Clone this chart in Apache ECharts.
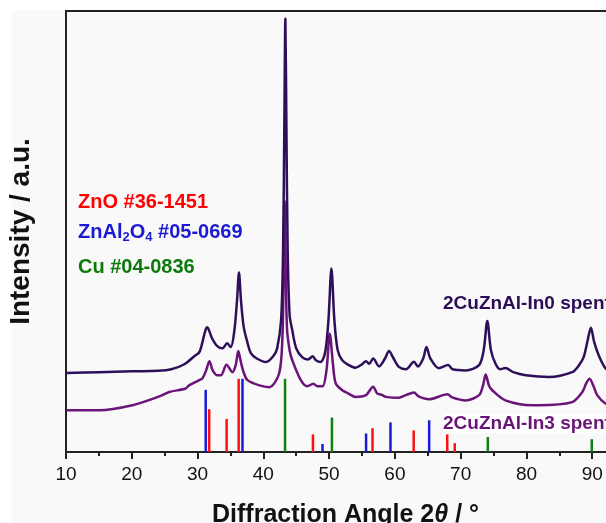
<!DOCTYPE html>
<html>
<head>
<meta charset="utf-8">
<script src="https://cdn.jsdelivr.net/npm/echarts@6/dist/echarts.min.js"></script>
<style>
html, body { margin: 0; padding: 0; background: #fff; }
#chart { width: 606px; height: 523px; }
</style>
</head>
<body>
<div id="chart"></div>
<script>
// XRD patterns (2theta, intensity in a.u.)
var theta0 = [10, 15, 20, 24, 26, 28, 29.5, 30.3, 31.0, 31.3, 31.5, 31.8, 32.2, 33.0, 33.8, 34.5, 35.05, 35.6, 36.0, 36.3, 36.6, 37.0, 37.5, 38.1, 39.0, 40.4, 41.5, 42.1, 42.7, 43.0, 43.2, 43.35, 43.5, 43.7, 44.0, 44.4, 45.0, 45.9, 46.8, 47.5, 48.0, 48.7, 49.4, 49.9, 50.35, 50.8, 51.3, 52.0, 53.0, 54.0, 55.0, 55.6, 56.1, 56.7, 57.6, 58.5, 59.1, 59.8, 60.6, 61.7, 62.9, 63.5, 64.3, 64.8, 65.4, 66.7, 68.1, 68.8, 70.75, 72.8, 73.5, 74.05, 74.6, 75.3, 76.0, 76.8, 78.0, 79.9, 83.4, 86.95, 88.0, 88.7, 89.3, 89.8, 90.3, 91.0, 92.0, 93.0];
var int0 = [17.9, 18.1, 18.3, 18.4, 18.75, 19.9, 21.7, 22.7, 26.5, 28.0, 28.3, 27.4, 25.8, 24.0, 23.5, 24.65, 23.8, 27.6, 34.4, 40.7, 34.4, 28.5, 25.3, 22.4, 21.2, 20.4, 21.7, 23.5, 29.9, 45.7, 75.2, 98.3, 75.2, 45.7, 31.0, 27.6, 23.5, 21.5, 21.0, 21.7, 20.8, 20.4, 22.6, 29.9, 41.6, 29.9, 23.1, 20.8, 19.7, 19.1, 19.9, 20.6, 20.0, 21.2, 19.4, 21.2, 22.9, 21.2, 19.3, 18.75, 20.45, 19.4, 21.2, 23.8, 21.2, 19.0, 19.7, 18.75, 18.5, 19.7, 23.1, 29.7, 23.1, 20.0, 18.75, 19.05, 18.1, 17.4, 17.0, 18.1, 19.7, 21.5, 25.3, 28.2, 24.9, 21.9, 19.0, 18.1];

var theta3 = [10, 15, 20.1, 24.2, 25.7, 28.2, 28.7, 30.25, 30.75, 31.3, 31.8, 32.3, 33.0, 33.55, 34.4, 35.3, 35.8, 36.2, 36.6, 37.0, 37.6, 39.4, 40.9, 42.4, 42.9, 43.1, 43.25, 43.4, 43.6, 44.0, 44.4, 45.7, 46.7, 47.6, 48.2, 49.0, 49.6, 50.1, 50.6, 51.0, 52.0, 53.0, 54.0, 55.6, 56.7, 57.3, 58.1, 58.6, 60.6, 61.65, 62.9, 63.6, 65.2, 68.0, 68.7, 70.75, 72.8, 73.4, 73.8, 74.3, 74.8, 76.8, 80.9, 81.9, 86.95, 88.5, 89.1, 89.6, 90.2, 90.75, 92.0, 93.0];
var int3 = [9.45, 9.45, 10.6, 12.6, 13.6, 14.4, 15.1, 16.3, 16.7, 18.5, 20.6, 18.5, 17.4, 17.4, 19.8, 18.1, 19.7, 22.9, 20.3, 18.1, 16.3, 15.1, 14.7, 17.8, 26.0, 42.0, 57.0, 42.0, 28.0, 23.0, 20.8, 16.3, 14.9, 15.5, 14.9, 14.9, 18.5, 26.8, 19.7, 15.6, 14.0, 13.2, 12.5, 12.9, 14.8, 13.3, 12.9, 12.5, 12.3, 12.9, 13.5, 12.6, 11.95, 13.1, 12.4, 11.7, 12.9, 15.1, 17.55, 15.1, 14.0, 11.7, 10.6, 10.6, 11.3, 13.6, 15.6, 16.6, 14.9, 12.9, 11.0, 10.6];

// reference patterns (stick positions and heights)
var znoPos = [31.77, 34.42, 36.25, 47.54, 56.60, 62.86, 67.96, 69.10];
var znoInt = [9.7, 7.5, 16.6, 4.0, 5.4, 4.9, 4.0, 2.0];
var spinelPos = [31.24, 36.83, 49.0, 55.62, 59.33, 65.21];
var spinelInt = [14.1, 16.6, 1.8, 4.2, 6.7, 7.2];
var cuPos = [43.30, 50.43, 74.13, 89.93];
var cuInt = [16.6, 7.8, 3.4, 2.9];

function pairs(xs, ys) {
    return xs.map(function (x, i) { return [x, ys[i]]; });
}

var chart = echarts.init(document.getElementById('chart'));

var axisColor = '#222';
var font = 'Liberation Sans, Arial, sans-serif';

function stickSeries(name, xs, ys, color) {
    return {
        name: name,
        type: 'bar',
        data: pairs(xs, ys),
        barWidth: 2.5,
        barGap: '-100%',
        itemStyle: { color: color },
        silent: true,
        z: 2
    };
}

var option = {
    backgroundColor: '#f9f9f9',
    animation: false,
    grid: { left: 66, top: 11, right: -52, bottom: 71, outerBoundsMode: 'none' },
    xAxis: [{
        type: 'value',
        min: 10,
        max: 100,
        interval: 10,
        axisLine: { lineStyle: { color: axisColor, width: 2 } },
        axisTick: { length: 7, lineStyle: { color: axisColor, width: 2 } },
        minorTick: { show: true, splitNumber: 2, length: 4, lineStyle: { color: axisColor, width: 2 } },
        splitLine: { show: false },
        axisLabel: { fontSize: 19, color: '#111', margin: 13, fontFamily: font }
    }, {
        type: 'value',
        position: 'top',
        min: 10,
        max: 100,
        axisLine: { show: true, lineStyle: { color: axisColor, width: 2 } },
        axisTick: { show: false },
        axisLabel: { show: false },
        splitLine: { show: false }
    }],
    yAxis: {
        type: 'value',
        min: 0,
        max: 100,
        axisLine: { show: true, lineStyle: { color: axisColor, width: 2 } },
        axisTick: { show: false },
        axisLabel: { show: false },
        splitLine: { show: false },
        name: 'Intensity / a.u.',
        nameLocation: 'middle',
        nameGap: 31,
        nameTextStyle: { fontSize: 28, fontWeight: 'bold', color: '#111', fontFamily: font }
    },
    title: {
        left: 207,
        top: 498,
        text: '{n|Diffraction Angle 2}{i|θ}{n| / °}',
        textStyle: {
            rich: {
                n: { fontSize: 25, fontWeight: 'bold', color: '#111', fontFamily: font },
                i: { fontSize: 25, fontWeight: 'bold', fontStyle: 'italic', color: '#111', fontFamily: font }
            }
        }
    },
    graphic: [
        { type: 'rect', left: 0, top: 0, shape: { width: 606, height: 10 }, style: { fill: '#fff' }, silent: true },
        { type: 'rect', left: 0, top: 0, shape: { width: 12, height: 523 }, style: { fill: '#fff' }, silent: true },
        {
            type: 'text', left: 78, top: 192,
            style: { text: 'ZnO #36-1451', fill: '#ff0000', font: 'bold 20px ' + font }
        },
        {
            type: 'text', left: 78, top: 220,
            style: {
                text: '{m|ZnAl}{s|2}{m|O}{s|4}{m| #05-0669}',
                rich: {
                    m: { fontSize: 20, fontWeight: 'bold', fill: '#1a1ad0', fontFamily: font, lineHeight: 24 },
                    s: { fontSize: 13, fontWeight: 'bold', fill: '#1a1ad0', fontFamily: font, lineHeight: 13, padding: [11, 0, 0, 0] }
                }
            }
        },
        {
            type: 'text', left: 78, top: 257,
            style: { text: 'Cu #04-0836', fill: '#0b7a0b', font: 'bold 20px ' + font }
        },
        {
            type: 'text', left: 443, top: 294,
            style: { text: '2CuZnAl-In0 spent', fill: '#2b0c55', font: 'bold 19px ' + font }
        },
        {
            type: 'text', left: 443, top: 414,
            style: { text: '2CuZnAl-In3 spent', fill: '#6a1479', font: 'bold 19px ' + font, backgroundColor: '#fff' }
        }
    ],
    series: [
        stickSeries('ZnO #36-1451', znoPos, znoInt, '#ff1010'),
        stickSeries('ZnAl2O4 #05-0669', spinelPos, spinelInt, '#1a1ad8'),
        stickSeries('Cu #04-0836', cuPos, cuInt, '#108010'),
        {
            name: '2CuZnAl-In3 spent',
            type: 'line',
            data: pairs(theta3, int3),
            showSymbol: false,
            smooth: 0.3,
            lineStyle: { color: '#6a1479', width: 2.5 },
            z: 3
        },
        {
            name: '2CuZnAl-In0 spent',
            type: 'line',
            data: pairs(theta0, int0),
            showSymbol: false,
            smooth: 0.3,
            lineStyle: { color: '#2e0f5a', width: 2.5 },
            z: 4
        }
    ]
};

chart.setOption(option);
window.addEventListener('resize', chart.resize);
</script>
</body>
</html>
